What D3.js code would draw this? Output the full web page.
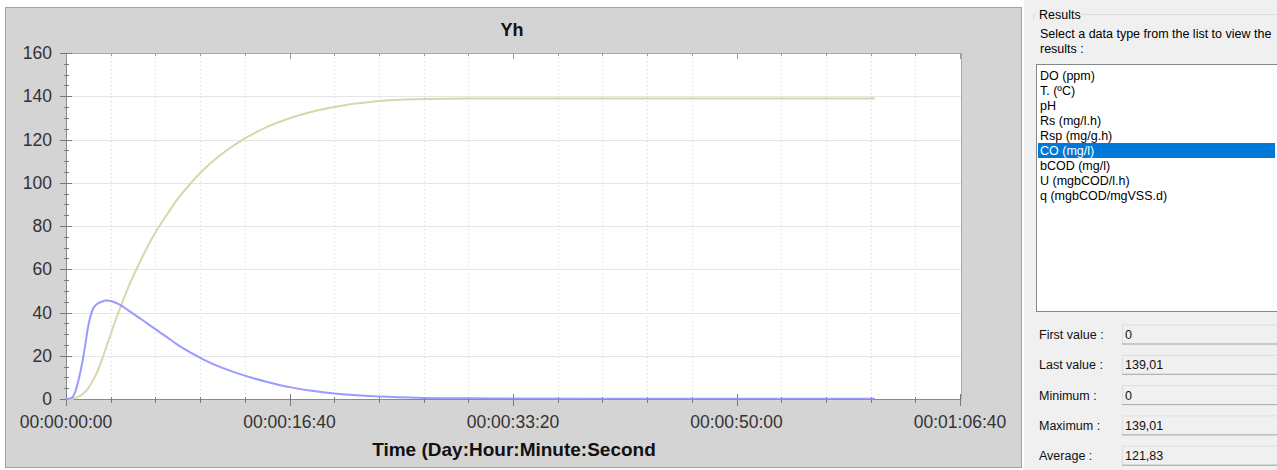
<!DOCTYPE html>
<html><head><meta charset="utf-8">
<script src="https://cdn.jsdelivr.net/npm/d3@7"></script>
<style>
body{margin:0;background:#fff;}
svg{display:block;font-family:"Liberation Sans",Arial,sans-serif;}
</style>
</head><body>
<svg id="c" width="1277" height="470"></svg>
<script>
// ---------- data ----------
const chartTitle = "Yh";
const xAxisTitle = "Time (Day:Hour:Minute:Second";
const timeSec = [0,20,40,60,80,100,120,140,160,180,200,240,280,320,360,400,450,500,560,620,700,800,900,1000,1100,1200,1400,1600,1800,2000,2400,2800,3200,3620];
const coValues = [0,0,0.5,1.3,2.8,5,8.5,12.5,18,24,30,41.5,52,61,69.5,77,85,92.5,100,106.5,113.5,120.5,125.8,129.8,132.8,135,137.8,138.7,139,139,139.01,139.01,139.01,139.01];
const yhValues = [0,0.3,3,10.5,21,34,41.5,44,45,45.5,45.3,43.6,40.9,38.1,35.2,32.3,28.7,25.0,21.3,18.0,14.4,10.8,7.9,5.5,3.8,2.5,1.1,0.5,0.3,0.2,0.1,0.1,0.1,0.1];
const xTickValues = [0,1000,2000,3000,4000];
const xTickLabels = ["00:00:00:00","00:00:16:40","00:00:33:20","00:00:50:00","00:01:06:40"];
const yTickValues = [0,20,40,60,80,100,120,140,160];
const yTickLabels = ["0","20","40","60","80","100","120","140","160"];
const listItems = ["DO (ppm)","T. (ºC)","pH","Rs (mg/l.h)","Rsp (mg/g.h)","CO (mg/l)","bCOD (mg/l)","U (mgbCOD/l.h)","q (mgbCOD/mgVSS.d)"];
const selectedItem = "CO (mg/l)";
const statLabels = ["First value :","Last value :","Minimum :","Maximum :","Average :"];
const statValues = ["0","139,01","0","139,01","121,83"];

// ---------- layout ----------
const svg = d3.select("#c");
const L = 66, R = 961, T = 53, B = 399;
const x = d3.scaleLinear().domain([0,4000]).range([L,960]);
const y = d3.scaleLinear().domain([0,160]).range([B,T]);

// chart panel
svg.append("rect").attr("x",5.5).attr("y",7.5).attr("width",1016).attr("height",460)
  .attr("fill","#d4d4d4").attr("stroke","#a3a3a3");
// right panel
svg.append("rect").attr("x",1024).attr("y",0).attr("width",253).attr("height",470).attr("fill","#f0f0f0");

// plot area
svg.append("rect").attr("x",L).attr("y",T).attr("width",R-L).attr("height",B-T).attr("fill","#fff");

const minorX = d3.range(0,4001,200);
const minorY = d3.range(0,161,5);

// gridlines
svg.append("g").selectAll("line").data(minorX.filter(d=>d%1000!==0)).join("line")
  .attr("x1",d=>Math.round(x(d))+0.5).attr("x2",d=>Math.round(x(d))+0.5)
  .attr("y1",T).attr("y2",B).attr("stroke","#d4d4d4").attr("stroke-dasharray","1,3");
svg.append("g").selectAll("line").data(yTickValues.filter(d=>d>0&&d<160)).join("line")
  .attr("x1",L).attr("x2",R).attr("y1",d=>Math.round(y(d))+0.5).attr("y2",d=>Math.round(y(d))+0.5)
  .attr("stroke","#e6e6e6");

// plot border
svg.append("path").attr("d",`M${L},${T+0.5}H${R+0.5}V${B}`).attr("fill","none").attr("stroke","#a8a8a8");

// axes lines
svg.append("line").attr("x1",L+0.5).attr("x2",L+0.5).attr("y1",T).attr("y2",B+1).attr("stroke","#8a8a8a");
svg.append("line").attr("x1",L).attr("x2",R).attr("y1",B+0.5).attr("y2",B+0.5).attr("stroke","#8a8a8a");

// x ticks bottom
svg.append("g").selectAll("line").data(minorX).join("line")
  .attr("x1",d=>Math.round(x(d))+0.5).attr("x2",d=>Math.round(x(d))+0.5)
  .attr("y1",d=>d%1000===0?B-5:B-2).attr("y2",d=>d%1000===0?B+7:B+4)
  .attr("stroke","#7a7a7a");
// x ticks top
svg.append("g").selectAll("line").data(minorX).join("line")
  .attr("x1",d=>Math.round(x(d))+0.5).attr("x2",d=>Math.round(x(d))+0.5)
  .attr("y1",T).attr("y2",d=>d%1000===0?T+6:T+3)
  .attr("stroke","#9a9a9a");
// y ticks
svg.append("g").selectAll("line").data(minorY).join("line")
  .attr("y1",d=>Math.round(y(d))+0.5).attr("y2",d=>Math.round(y(d))+0.5)
  .attr("x1",d=>d%20===0?L-6:L-2).attr("x2",d=>d%20===0?L+6:L+3)
  .attr("stroke","#7a7a7a");

// tick labels
svg.append("g").selectAll("text").data(xTickValues).join("text")
  .attr("x",d=>x(d)).attr("y",428).attr("text-anchor","middle")
  .attr("font-size","17.5px").attr("fill","#333").text((d,i)=>xTickLabels[i]);
svg.append("g").selectAll("text").data(yTickValues).join("text")
  .attr("x",52).attr("y",d=>y(d)+6).attr("text-anchor","end")
  .attr("font-size","17.5px").attr("fill","#333").text((d,i)=>yTickLabels[i]);

// titles
svg.append("text").attr("x",512).attr("y",36).attr("text-anchor","middle")
  .attr("font-size","18px").attr("font-weight","bold").attr("fill","#111").text(chartTitle);
svg.append("text").attr("x",514).attr("y",456).attr("text-anchor","middle")
  .attr("font-size","19px").attr("font-weight","bold").attr("fill","#111").text(xAxisTitle);

// lines
const line = v => d3.line().x((d,i)=>x(timeSec[i])).y(d=>y(d)).curve(d3.curveMonotoneX)(v);
svg.append("path").attr("d",line(coValues)).attr("fill","none").attr("stroke","#d8d6ab").attr("stroke-width",2);
svg.append("path").attr("d",line(yhValues)).attr("fill","none").attr("stroke","#8c8cff").attr("stroke-opacity",0.88).attr("stroke-width",2);

// ---------- right panel ----------
const fs = "12.5px";
svg.append("path").attr("d","M1036,14.5H1033.5V20 M1082,14.5H1277").attr("fill","none").attr("stroke","#dcdcdc");
svg.append("text").attr("x",1039).attr("y",19).attr("font-size",fs).text("Results");
svg.append("text").attr("x",1040).attr("y",38).attr("font-size",fs).text("Select a data type from the list to view the");
svg.append("text").attr("x",1040).attr("y",53).attr("font-size",fs).text("results :");

svg.append("rect").attr("x",1036.5).attr("y",64.5).attr("width",250).attr("height",247)
  .attr("fill","#fff").attr("stroke","#828790");
const itemY = d3.scaleLinear().domain([0,1]).range([75,90.1]);
const selIdx = listItems.indexOf(selectedItem);
svg.append("rect").attr("x",1038).attr("y",itemY(selIdx)-7.5).attr("width",237).attr("height",15).attr("fill","#0078d7");
svg.append("g").selectAll("text").data(listItems).join("text")
  .attr("x",1040).attr("y",(d,i)=>itemY(i)+4.5).attr("font-size",fs)
  .attr("fill",d=>d===selectedItem?"#fff":"#000").text(d=>d);

const statY = d3.scaleLinear().domain([0,1]).range([334.5,364.8]);
const sg = svg.append("g").selectAll("g").data(statLabels).join("g");
sg.append("rect").attr("x",1122.5).attr("y",(d,i)=>statY(i)-9.5).attr("width",160).attr("height",19)
  .attr("fill","#f0f0f0").attr("stroke","#dedede");
sg.append("line").attr("x1",1122).attr("x2",1277).attr("y1",(d,i)=>statY(i)+9.5).attr("y2",(d,i)=>statY(i)+9.5)
  .attr("stroke","#a9a9a9");
sg.append("text").attr("x",1039).attr("y",(d,i)=>statY(i)+4.5).attr("font-size",fs).attr("fill","#111").text(d=>d);
sg.append("text").attr("x",1125).attr("y",(d,i)=>statY(i)+4.5).attr("font-size",fs).attr("fill","#111").text((d,i)=>statValues[i]);
</script>
</body></html>
